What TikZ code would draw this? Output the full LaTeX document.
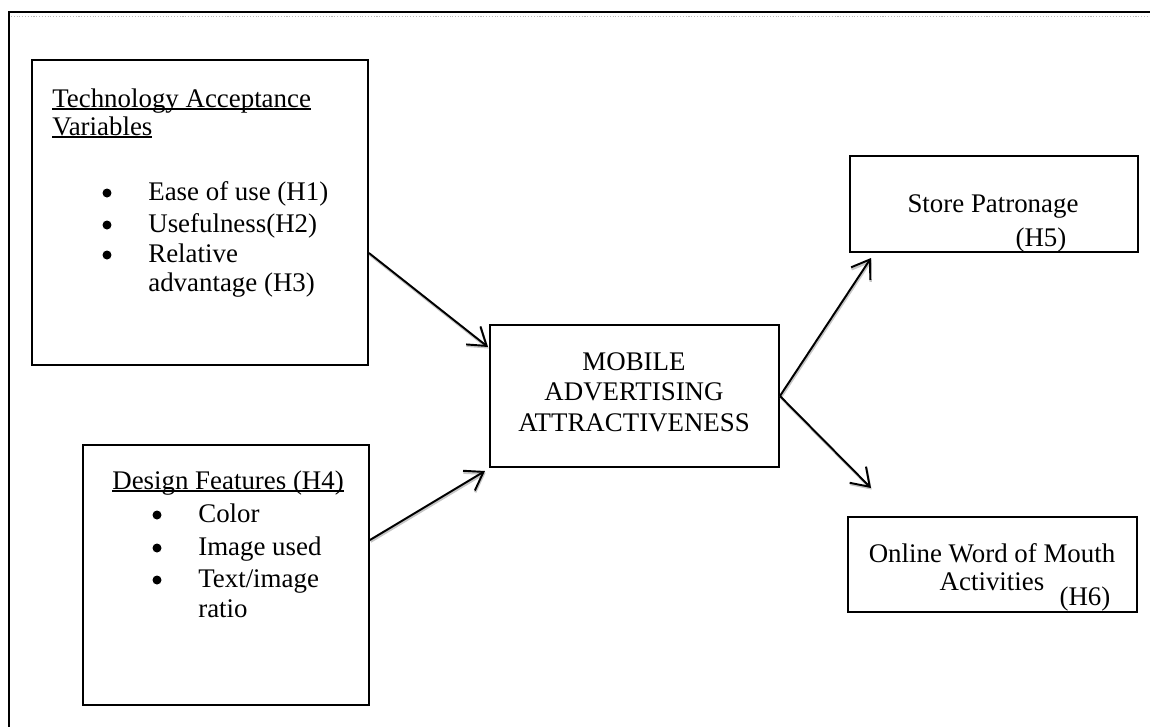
\documentclass[tikz,border=0pt]{standalone}
\usepackage{fontspec}
\setmainfont{Liberation Serif}
\usepackage{tikz}
\usetikzlibrary{arrows.meta, positioning}
\newcommand{\ulx}[1]{\leavevmode\setbox0\hbox{#1}\rlap{\rule[-1.6pt]{\wd0}{0.9pt}}\box0}
\tikzset{
    box/.style={rectangle, draw, line width=1.1pt, inner sep=0pt},
    txt/.style={inner sep=0pt, anchor=base west, font=\fontsize{15.3}{17.6}\selectfont},
    ctxt/.style={txt, anchor=base},
    dot/.style={circle, fill, inner sep=0pt, minimum size=0.18cm},
    arrow/.style={-{Straight Barb[length=0.34cm, width=0.46cm]}, line width=1.1pt,
        preaction={draw=gray!45, line width=1.4pt, transform canvas={shift={(0.4pt,-0.9pt)}}}}
}
\begin{document}
\begin{tikzpicture}[x=0.02cm, y=-0.02cm]
    \useasboundingbox (0,0) rectangle (1150,727);
    % Page frame
    \draw[line width=1.1pt] (9,727) -- (9,12) -- (1150,12);
    \draw[gray!55, densely dotted, line width=0.6pt] (11,16.5) -- (1150,16.5);

    % Boxes
    \node[box, minimum width=6.72cm, minimum height=6.1cm] (tam) at (200,212.5) {};
    \node[box, minimum width=5.72cm, minimum height=5.2cm] (design) at (226,575) {};
    \node[box, minimum width=5.78cm, minimum height=2.84cm] (mobile) at (634.5,396) {};
    \node[box, minimum width=5.76cm, minimum height=1.92cm] (store) at (994,204) {};
    \node[box, minimum width=5.78cm, minimum height=1.9cm] (womb) at (992.5,564.5) {};

    % Technology acceptance variables
    \node[txt] (tamtitle) at (52,107) {\ulx{Technology Acceptance}};
    \node[txt] (tamvar) at (52,135) {\ulx{Variables}};
    \node[txt] (ease) at (148,200) {Ease of use (H1)};
    \node[txt] (useful) at (148,232) {Usefulness(H2)};
    \node[txt] (relative) at (148,262) {Relative};
    \node[txt] (advantage) at (148,291) {advantage (H3)};
    \node[dot] (b1) at (107,193) {};
    \node[dot] (b2) at (107,225) {};
    \node[dot] (b3) at (107,255) {};

    % Design features
    \node[txt] (dftitle) at (112,489) {\ulx{Design Features (H4)}};
    \node[txt] (color) at (198,522) {Color};
    \node[txt] (image) at (198,555) {Image used};
    \node[txt] (textimg) at (198,587) {Text/image};
    \node[txt] (ratio) at (198,617) {ratio};
    \node[dot] (b4) at (157,515) {};
    \node[dot] (b5) at (157,548) {};
    \node[dot] (b6) at (157,580) {};

    % Mobile advertising attractiveness
    \node[ctxt] (mob1) at (634,370) {MOBILE};
    \node[ctxt] (mob2) at (634,400) {ADVERTISING};
    \node[ctxt] (mob3) at (634,431) {ATTRACTIVENESS};

    % Outcomes
    \node[ctxt] (storetxt) at (993,212) {Store Patronage};
    \node[ctxt] (h5) at (1041,246) {(H5)};
    \node[ctxt] (wom1) at (992,562) {Online Word of Mouth};
    \node[ctxt] (wom2) at (992,590) {Activities};
    \node[ctxt] (h6) at (1085,605) {(H6)};

    % Connections
    \coordinate (m1) at (488,347);
    \coordinate (m2) at (485,471);
    \coordinate (s5) at (871,258);
    \coordinate (w6) at (871,488);
    \draw[arrow] (tam.east |- 0,253) -- (m1);
    \draw[arrow] (design.east |- 0,540) -- (m2);
    \draw[arrow] (mobile.east) -- (s5);
    \draw[arrow] (mobile.east) -- (w6);
\end{tikzpicture}
\end{document}
